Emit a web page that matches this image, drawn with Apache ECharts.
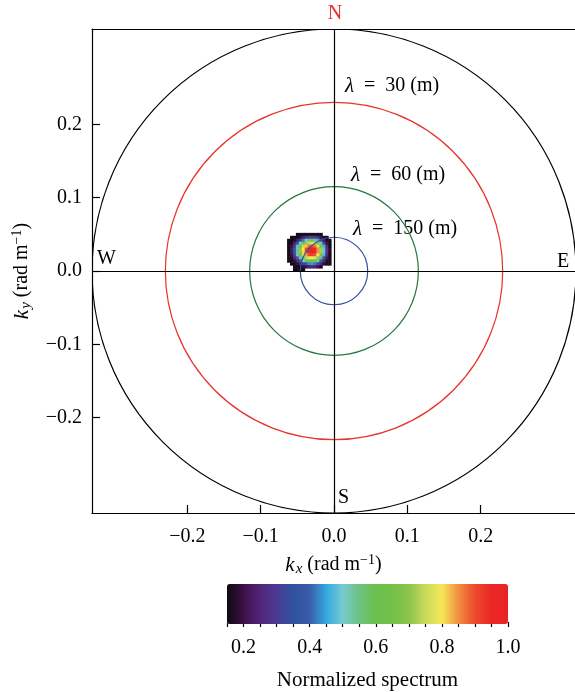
<!DOCTYPE html>
<html>
<head>
<meta charset="utf-8">
<script src="https://cdn.jsdelivr.net/npm/echarts@6/dist/echarts.min.js"></script>
<style>
html, body { margin: 0; background: #fff; }
#chart { width: 575px; height: 692px; }
</style>
</head>
<body>
<div id="chart"></div>
<script>
// axis ticks of the wavenumber plane
var axisTicks = [-0.2, -0.1, 0, 0.1, 0.2];

// wavelength rings (rad/m radius) : outer border, 30 m, 60 m, 150 m
var ringRadii = [0.33, 0.23, 0.115, 0.046];
var ringColors = ['#000000', '#e8322c', '#22793b', '#3050a0'];

// spectrum cells (rows from top to bottom)
var cellX = [-0.062, -0.058, -0.054, -0.050, -0.046, -0.042, -0.038, -0.034, -0.030, -0.026, -0.022, -0.018, -0.014, -0.010, -0.006];
var cellY = [0.050, 0.046, 0.042, 0.038, 0.034, 0.030, 0.026, 0.022, 0.018, 0.014, 0.010, 0.006, 0.002];
var spectrum = [
    [null, null, null, 0.16, 0.16, 0.16, 0.16, 0.17, 0.17, 0.17, 0.16, 0.16, null, null, null],
    [null, 0.16, 0.16, 0.16, 0.19, 0.24, 0.28, 0.31, 0.32, 0.30, 0.26, 0.20, 0.16, 0.16, null],
    [0.16, 0.16, 0.17, 0.23, 0.31, 0.42, 0.50, 0.55, 0.57, 0.54, 0.46, 0.33, 0.22, 0.16, 0.16],
    [0.16, 0.16, 0.24, 0.35, 0.50, 0.61, 0.71, 0.75, 0.77, 0.74, 0.66, 0.52, 0.33, 0.20, 0.16],
    [0.16, 0.20, 0.30, 0.48, 0.63, 0.75, 0.82, 0.88, 0.90, 0.87, 0.78, 0.65, 0.46, 0.26, 0.16],
    [0.16, 0.22, 0.36, 0.54, 0.70, 0.80, 0.90, 0.96, 0.98, 0.95, 0.85, 0.72, 0.52, 0.29, 0.17],
    [0.16, 0.22, 0.36, 0.54, 0.70, 0.81, 0.90, 0.96, 1.00, 0.95, 0.85, 0.72, 0.52, 0.29, 0.17],
    [0.16, 0.20, 0.31, 0.49, 0.64, 0.76, 0.84, 0.90, 0.92, 0.89, 0.80, 0.66, 0.47, 0.26, 0.16],
    [0.16, 0.17, 0.25, 0.39, 0.53, 0.66, 0.74, 0.79, 0.80, 0.78, 0.70, 0.55, 0.37, 0.21, 0.16],
    [0.16, 0.16, 0.19, 0.27, 0.38, 0.50, 0.58, 0.63, 0.65, 0.62, 0.53, 0.40, 0.26, 0.17, 0.16],
    [null, 0.16, 0.16, 0.19, 0.24, 0.30, 0.38, 0.43, 0.44, 0.42, 0.33, 0.25, 0.18, 0.16, 0.16],
    [null, null, 0.16, 0.16, 0.16, 0.19, 0.21, 0.24, 0.25, 0.24, 0.20, 0.16, null, null, null],
    [null, null, 0.16, 0.16, 0.16, 0.16, null, null, null, null, null, null, null, null, null]
];

// colour bar
var barTicks = [0.15, 0.20, 0.25, 0.30, 0.35, 0.40, 0.45, 0.50, 0.55, 0.60, 0.65, 0.70, 0.75, 0.80, 0.85, 0.90, 0.95, 1.00];
var barLabels = [0.2, 0.4, 0.6, 0.8, 1.0];
var spectrumColors = [
    '#0e0a0e', '#3c1048', '#52247a', '#4c3a94', '#2f52a0', '#3a5ca8',
    '#34a8e0', '#78cad0', '#6cc282', '#6cbf4c', '#72c048', '#8cc44c',
    '#c8da5c', '#f4e858', '#f28e40', '#ec4a2c', '#ea2626', '#e82424'
];

var SERIF = '"Liberation Serif", "DejaVu Serif", serif';
var cellStep = 0.004;

var cells = [];
spectrum.forEach(function (row, i) {
    row.forEach(function (v, j) {
        if (v !== null) cells.push([cellX[j], cellY[i], v]);
    });
});

function tickFmt(v) {
    return (v < 0 ? '\u2212' : '') + Math.abs(v).toFixed(1);
}

var nameRich = {
    i: { fontFamily: SERIF, fontStyle: 'italic', fontSize: 21, color: '#000' },
    sub: { fontFamily: SERIF, fontStyle: 'italic', fontSize: 15, color: '#000', verticalAlign: 'bottom', padding: [9, 0, 0, 1] },
    n: { fontFamily: SERIF, fontSize: 20, color: '#000' },
    sup: { fontFamily: SERIF, fontSize: 14, color: '#000', verticalAlign: 'top', padding: [0, 0, 10, 0] }
};

var axisBlack = { color: '#000', width: 1.2 };

var chart = echarts.init(document.getElementById('chart'));

// the plot is cut off on the right by the picture edge: same px/unit as y, no right border
chart.setOption({
    animation: false,
    backgroundColor: '#fff',
    grid: [
        { left: 92, top: 29, width: 483, height: 484, show: false },
        { left: 227, top: 584, width: 281, height: 40, show: false }
    ],
    xAxis: [{
        gridIndex: 0, type: 'value', min: -0.33, max: 0.3286,
        axisLine: { show: true, onZero: false, lineStyle: axisBlack },
        axisTick: { show: true, inside: true, length: 8, customValues: axisTicks, lineStyle: axisBlack },
        axisLabel: { customValues: axisTicks, formatter: tickFmt, color: '#000', fontFamily: SERIF, fontSize: 20, margin: 14 },
        splitLine: { show: false },
        name: '{i|k}{sub|x}{n| (rad m}{sup|\u22121}{n|)}',
        nameLocation: 'middle', nameGap: 40,
        nameTextStyle: { rich: nameRich }
    }, {
        gridIndex: 1, type: 'value', min: 0.15, max: 1.0,
        axisLine: { show: false },
        axisTick: { show: true, inside: false, length: 5, customValues: barTicks, lineStyle: axisBlack },
        axisLabel: { customValues: barLabels, formatter: function (v) { return v.toFixed(1); }, color: '#000', fontFamily: SERIF, fontSize: 20, margin: 16 },
        splitLine: { show: false },
        name: 'Normalized spectrum', nameLocation: 'middle', nameGap: 48,
        nameTextStyle: { fontFamily: SERIF, fontSize: 21, color: '#000' }
    }, {
        // top frame line
        gridIndex: 0, type: 'value', position: 'top', min: -0.33, max: 0.3286,
        axisLine: { show: true, onZero: false, lineStyle: axisBlack },
        axisTick: { show: false }, axisLabel: { show: false }, splitLine: { show: false }
    }],
    yAxis: [{
        gridIndex: 0, type: 'value', min: -0.33, max: 0.33,
        axisLine: { show: true, onZero: false, lineStyle: axisBlack },
        axisTick: { show: true, inside: true, length: 8, customValues: axisTicks, lineStyle: axisBlack },
        axisLabel: { customValues: axisTicks, formatter: tickFmt, color: '#000', fontFamily: SERIF, fontSize: 20, margin: 10 },
        splitLine: { show: false },
        name: '{i|k}{sub|y}{n| (rad m}{sup|\u22121}{n|)}',
        nameLocation: 'middle', nameGap: 58,
        nameTextStyle: { rich: nameRich }
    }, {
        gridIndex: 1, type: 'value', min: 0, max: 1, show: false
    }],
    visualMap: {
        type: 'continuous', min: 0.15, max: 1.0, dimension: 2, seriesIndex: 0,
        orient: 'horizontal', left: 227, top: 584, padding: 0,
        itemWidth: 40, itemHeight: 281, calculable: false, hoverLink: false,
        text: null, showLabel: false,
        inRange: { color: spectrumColors }
    },
    series: [{
        name: 'spectrum', type: 'custom', xAxisIndex: 0, yAxisIndex: 0, z: 2,
        data: cells,
        renderItem: function (params, api) {
            var p = api.coord([api.value(0) - cellStep / 2, api.value(1) + cellStep / 2]);
            var s = api.size([cellStep, cellStep]);
            return {
                type: 'rect',
                shape: { x: p[0], y: p[1], width: s[0] + 0.5, height: s[1] + 0.5 },
                style: { fill: api.visual('color') }
            };
        }
    }, {
        name: 'rings', type: 'custom', xAxisIndex: 0, yAxisIndex: 0, z: 3, clip: true,
        data: ringRadii.map(function (r, i) { return [0, 0, r, i]; }),
        renderItem: function (params, api) {
            var c = api.coord([0, 0]);
            var r = api.size([0, api.value(2)])[1];
            return {
                type: 'circle',
                shape: { cx: c[0], cy: c[1], r: r },
                style: { fill: 'none', stroke: ringColors[api.value(3)], lineWidth: 1.2 }
            };
        },
        markLine: {
            silent: true, symbol: 'none', label: { show: false },
            lineStyle: { color: '#000', width: 1.2, type: 'solid' },
            data: [{ xAxis: 0 }, { yAxis: 0 }]
        }
    }],
    graphic: [
        { type: 'text', x: 335, y: 14, style: { text: 'N', fill: '#e8322c', font: '20px ' + SERIF, align: 'center', verticalAlign: 'middle' } },
        { type: 'text', x: 97, y: 259, style: { text: 'W', fill: '#000', font: '20px ' + SERIF, align: 'left', verticalAlign: 'middle' } },
        { type: 'text', x: 557, y: 262, style: { text: 'E', fill: '#000', font: '20px ' + SERIF, align: 'left', verticalAlign: 'middle' } },
        { type: 'text', x: 338, y: 498, style: { text: 'S', fill: '#000', font: '20px ' + SERIF, align: 'left', verticalAlign: 'middle' } },
        { type: 'text', x: 345, y: 86, style: { text: '{l|\u03bb}  =  30 (m)', fill: '#000', font: '20px ' + SERIF, verticalAlign: 'middle', rich: { l: { fontStyle: 'italic', fontSize: 21, fontFamily: SERIF } } } },
        { type: 'text', x: 351, y: 175, style: { text: '{l|\u03bb}  =  60 (m)', fill: '#000', font: '20px ' + SERIF, verticalAlign: 'middle', rich: { l: { fontStyle: 'italic', fontSize: 21, fontFamily: SERIF } } } },
        { type: 'text', x: 353, y: 229, style: { text: '{l|\u03bb}  =  150 (m)', fill: '#000', font: '20px ' + SERIF, verticalAlign: 'middle', rich: { l: { fontStyle: 'italic', fontSize: 21, fontFamily: SERIF } } } }
    ]
});
</script>
</body>
</html>
